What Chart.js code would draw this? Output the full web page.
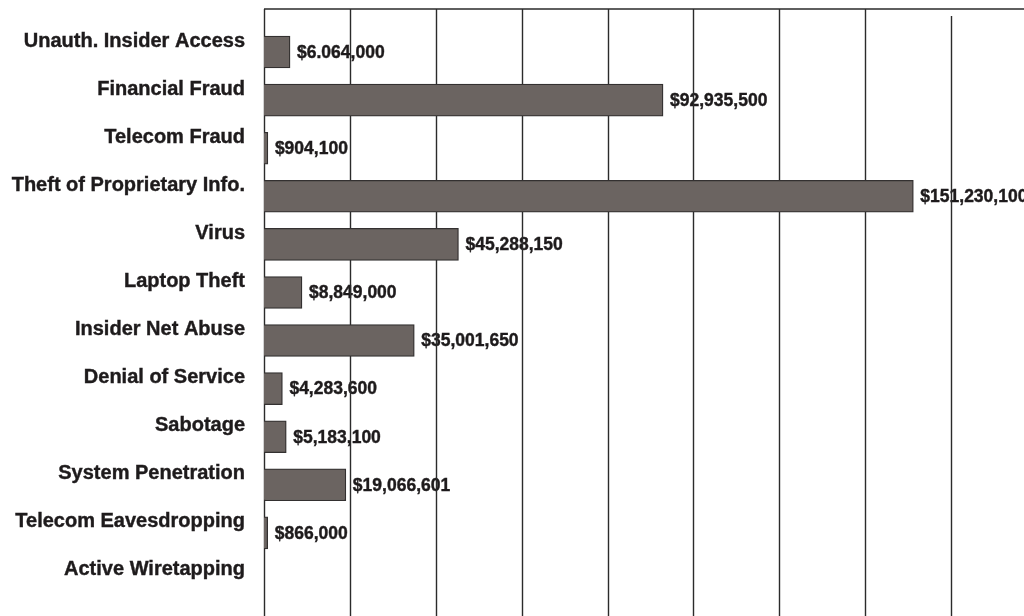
<!DOCTYPE html>
<html>
<head>
<meta charset="utf-8">
<script src="https://cdn.jsdelivr.net/npm/chart.js@4.4.1/dist/chart.umd.min.js"></script>
<style>
  html, body { margin: 0; padding: 0; background: #fff; }
  #wrap { width: 1024px; height: 616px; position: relative; }
</style>
</head>
<body>
<div id="wrap"><canvas id="lossChart"></canvas></div>
<script>
// Dollar losses by type of attack
const categories = [
  'Unauth. Insider Access',
  'Financial Fraud',
  'Telecom Fraud',
  'Theft of Proprietary Info.',
  'Virus',
  'Laptop Theft',
  'Insider Net Abuse',
  'Denial of Service',
  'Sabotage',
  'System Penetration',
  'Telecom Eavesdropping',
  'Active Wiretapping'
];
const losses = [6064000, 92935500, 904100, 151230100, 45288150, 8849000,
  35001650, 4283600, 5183100, 19066601, 866000, 0];
const lossText = ['$6.064,000', '$92,935,500', '$904,100', '$151,230,100',
  '$45,288,150', '$8,849,000', '$35,001,650', '$4,283,600', '$5,183,100',
  '$19,066,601', '$866,000', ''];
const axisMax = 160000000;
const axisStep = 20000000;

const ink = '#1e1b1c';

// value text next to each bar, then the vertical rules on top of it
const frame = {
  id: 'frame',
  beforeDatasetsDraw(chart) {
    const { ctx, scales: { x } } = chart;
    const meta = chart.getDatasetMeta(0);
    ctx.save();
    ctx.fillStyle = ink;
    ctx.strokeStyle = ink;
    ctx.lineWidth = 0.4;
    ctx.font = 'bold 17.5px "Liberation Sans", Arial, sans-serif';
    ctx.textBaseline = 'middle';
    meta.data.forEach((bar, i) => {
      if (!lossText[i]) return;
      ctx.fillText(lossText[i], bar.x + 7, bar.y + 1);
      ctx.strokeText(lossText[i], bar.x + 7, bar.y + 1);
    });

    const top = 9;
    ctx.strokeStyle = '#2b2b2b';
    ctx.lineWidth = 1.4;
    ctx.beginPath();
    ctx.moveTo(x.left, top);
    ctx.lineTo(chart.width, top);
    x.ticks.forEach((t, i) => {
      const px = Math.round(x.getPixelForValue(t.value)) + 0.5;
      const y0 = i === x.ticks.length - 1 ? top + 7 : top;
      ctx.moveTo(px, y0);
      ctx.lineTo(px, chart.height);
    });
    ctx.stroke();
    ctx.restore();
  }
};

const ctx = document.getElementById('lossChart').getContext('2d');
new Chart(ctx, {
  type: 'bar',
  data: {
    labels: categories,
    datasets: [{
      data: losses,
      backgroundColor: '#6b6461',
      borderColor: '#333030',
      borderWidth: 1.3,
      barThickness: 32
    }]
  },
  options: {
    indexAxis: 'y',
    responsive: true,
    maintainAspectRatio: false,
    animation: false,
    layout: { padding: { top: 28, bottom: 11, left: 0, right: 73 } },
    plugins: {
      legend: { display: false },
      tooltip: { enabled: false }
    },
    scales: {
      x: {
        display: false,
        min: 0,
        max: axisMax,
        ticks: { stepSize: axisStep }
      },
      y: {
        grid: { display: false },
        border: { display: false },
        ticks: {
          color: ink,
          textStrokeColor: ink,
          textStrokeWidth: 0.4,
          padding: 11,
          labelOffset: -11,
          font: { family: '"Liberation Sans", Arial, sans-serif', weight: 'bold', size: 20 }
        },
        afterFit(scale) {
          scale.width = 264;
          scale.paddingTop = 0;
          scale.paddingBottom = 0;
        }
      }
    }
  },
  plugins: [frame]
});
</script>
</body>
</html>
